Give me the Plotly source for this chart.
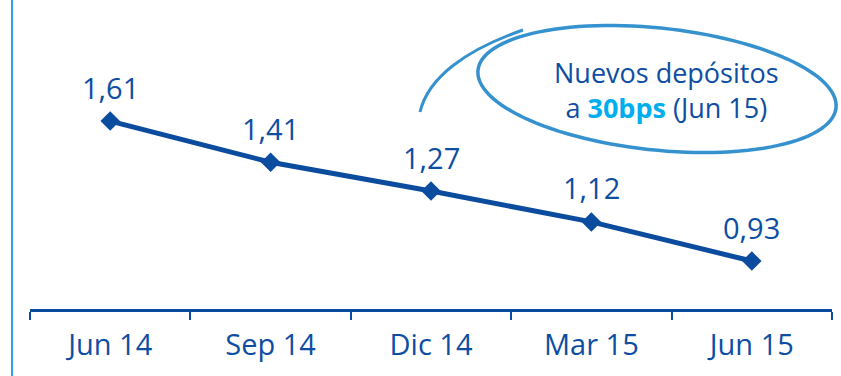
import numpy as np
import plotly.graph_objects as go

# Quarterly cost of deposits (%)
periods = ["Jun 14", "Sep 14", "Dic 14", "Mar 15", "Jun 15"]
cost = [1.61, 1.41, 1.27, 1.12, 0.93]

W, H = 841, 376
ML, MR, MT, MB = 30, 9, 0, 67
DARK = "#0d4ea3"
LINE = "#0b4c9e"
LIGHT = "#2ea6e3"
RING = "#3592cf"
CYAN = "#00aeef"


def px(x):
    return (x - ML) / (W - ML - MR)


def py(y):
    return (H - MB - y) / (H - MT - MB)


def ring_path():
    # slightly tilted loop around the callout, plus the overlapping tail stroke
    cx, cy, rx, ry, th = 657, 89, 180, 61, np.deg2rad(6)
    t = np.linspace(0, 2 * np.pi, 120)
    ex = cx + rx * np.cos(t) * np.cos(th) - ry * np.sin(t) * np.sin(th)
    ey = cy + rx * np.cos(t) * np.sin(th) + ry * np.sin(t) * np.cos(th)
    pts = " L ".join(f"{px(a):.5f},{py(b):.5f}" for a, b in zip(ex, ey))
    return "M " + pts + " Z"


def tail_path():
    p = [(420, 112), (428, 78), (465, 50), (523, 30)]
    c = [f"{px(a):.5f},{py(b):.5f}" for a, b in p]
    return f"M {c[0]} C {c[1]} {c[2]} {c[3]}"


fig = go.Figure(
    go.Scatter(
        x=periods,
        y=cost,
        mode="lines+markers",
        line=dict(color=LINE, width=5),
        marker=dict(symbol="diamond", size=15, color=LINE),
        cliponaxis=False,
        hoverinfo="skip",
    )
)

# value labels above each point, Spanish decimal comma
value_labels = [
    dict(x=p, y=v, xref="x", yref="y", text=f"{v:.2f}".replace(".", ","),
         showarrow=False, yshift=34, xanchor="center", yanchor="middle",
         font=dict(family="Open Sans", size=29, color=DARK))
    for p, v in zip(periods, cost)
]

fig.update_layout(
    width=W,
    height=H,
    margin=dict(l=ML, r=MR, t=MT, b=MB),
    paper_bgcolor="white",
    plot_bgcolor="white",
    showlegend=False,
    font=dict(family="Open Sans", color=DARK),
    xaxis=dict(
        type="category",
        range=[-0.5, 4.5],
        tickson="boundaries",
        showline=True,
        linecolor=LINE,
        linewidth=3,
        ticks="outside",
        ticklen=8,
        tickwidth=2,
        tickcolor=LINE,
        showgrid=False,
        zeroline=False,
        tickfont=dict(family="Open Sans", size=29, color=DARK),
        ticklabelstandoff=8,
        fixedrange=True,
    ),
    yaxis=dict(
        range=[0.697, 2.198],
        visible=False,
        showgrid=False,
        zeroline=False,
        fixedrange=True,
    ),
    shapes=[
        dict(type="line", xref="paper", yref="paper",
             x0=px(12), x1=px(12), y0=py(H), y1=py(0),
             line=dict(color=LIGHT, width=2)),
        dict(type="path", xref="paper", yref="paper", path=ring_path(),
             line=dict(color=RING, width=3.5)),
        dict(type="path", xref="paper", yref="paper", path=tail_path(),
             line=dict(color=RING, width=3)),
    ],
    annotations=value_labels + [
        dict(
            xref="paper", yref="paper", x=px(666), y=py(90),
            xanchor="center", yanchor="middle", showarrow=False,
            text="Nuevos depósitos<br>a <b><span style='color:" + CYAN + "'>30bps</span></b> (Jun 15)",
            font=dict(family="Open Sans", size=27, color=DARK),
            align="center",
        )
    ],
)

fig.write_html("out.html")
